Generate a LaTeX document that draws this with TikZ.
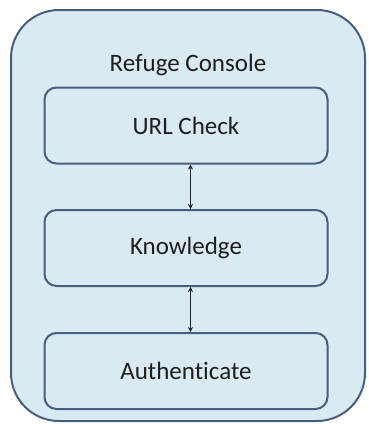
\documentclass[tikz,border=0pt]{standalone}
\usepackage{fontspec}
\setmainfont{Carlito}[Ligatures=NoCommon]
\usetikzlibrary{arrows.meta}
\definecolor{panelfill}{HTML}{DAEAF3}
\definecolor{panelline}{HTML}{475F7E}
\definecolor{labeltext}{HTML}{1E1E1E}
\tikzset{
  labelfont/.style={font=\fontsize{25}{29}\selectfont, text=labeltext},
  console/.style={draw=panelline, fill=panelfill, line width=2pt, rounded corners=48pt},
  module/.style={draw=panelline, fill=panelfill, line width=2pt, rounded corners=12pt,
    minimum width=283pt, minimum height=76pt, inner sep=0pt, labelfont},
  link/.style={{Stealth[length=5pt,width=5pt]}-{Stealth[length=5pt,width=5pt]}, line width=0.8pt, black!85}
}
\begin{document}
\begin{tikzpicture}[x=1pt,y=-1pt]
  \useasboundingbox (0,0) rectangle (368,424);
  % outer container
  \draw[console] (11,10) rectangle (365,421);
  \node[labelfont] (title) at (188,65) {Refuge Console};
  % modules
  \node[module] (url) at (186,125.5) {URL Check};
  \node[module] (know) at (186,248) {Knowledge};
  \node[module] (auth) at (186,371) {Authenticate};
  % links between modules
  \draw[link] (url.south -| 190.5,0) -- (know.north -| 190.5,0);
  \draw[link] (know.south -| 190.5,0) -- (auth.north -| 190.5,0);
\end{tikzpicture}
\end{document}
